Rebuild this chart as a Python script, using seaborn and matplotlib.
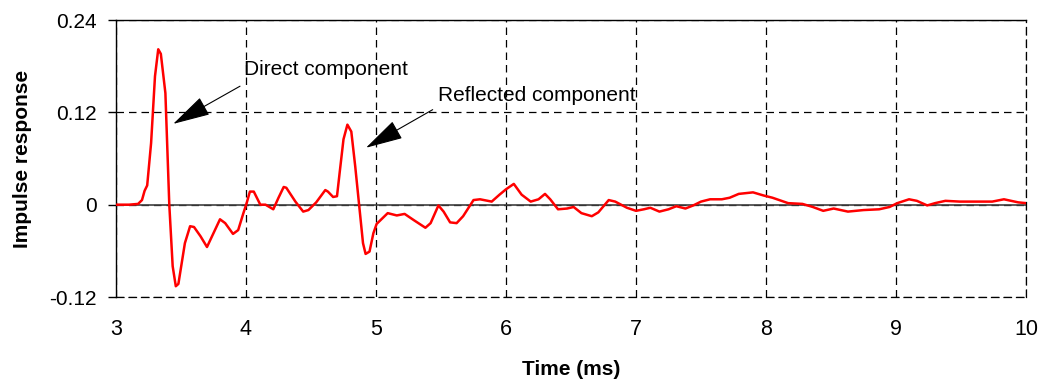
import numpy as np
import pandas as pd
import matplotlib
matplotlib.use("Agg")
import matplotlib.pyplot as plt
import seaborn as sns

# values
time_ms = [3.00, 3.10, 3.17, 3.20, 3.22, 3.24, 3.27, 3.30, 3.325, 3.345, 3.38, 3.41,
           3.436, 3.46, 3.48, 3.53, 3.57, 3.60, 3.65, 3.70, 3.75, 3.80, 3.84, 3.90,
           3.94, 3.98, 4.005, 4.03, 4.06, 4.11, 4.15, 4.21, 4.25, 4.29, 4.31, 4.38,
           4.44, 4.48, 4.54, 4.61, 4.63, 4.67, 4.70, 4.72, 4.75, 4.78, 4.81, 4.84,
           4.87, 4.90, 4.92, 4.95, 4.98, 5.005, 5.09, 5.16, 5.22, 5.29, 5.38, 5.42,
           5.48, 5.52, 5.57, 5.62, 5.67, 5.75, 5.80, 5.89, 5.95, 6.00, 6.06, 6.12,
           6.19, 6.25, 6.30, 6.34, 6.40, 6.47, 6.52, 6.58, 6.66, 6.71, 6.79, 6.84,
           6.93, 7.00, 7.06, 7.11, 7.18, 7.25, 7.31, 7.38, 7.44, 7.50, 7.57, 7.66,
           7.72, 7.79, 7.90, 7.98, 8.05, 8.17, 8.28, 8.36, 8.44, 8.52, 8.63, 8.75,
           8.87, 8.95, 9.01, 9.10, 9.16, 9.24, 9.30, 9.38, 9.49, 9.60, 9.67, 9.74,
           9.83, 9.94, 10.00]
response = [0.0, 0.0, 0.001, 0.006, 0.018, 0.025, 0.080, 0.167, 0.202, 0.196, 0.145, 0.0,
            -0.080, -0.106, -0.103, -0.050, -0.028, -0.029, -0.041, -0.055, -0.037, -0.019, -0.024, -0.038,
            -0.033, -0.011, 0.002, 0.017, 0.017, 0.0, 0.0, -0.006, 0.009, 0.023, 0.022, 0.004,
            -0.009, -0.007, 0.003, 0.019, 0.017, 0.010, 0.011, 0.041, 0.085, 0.104, 0.095, 0.050,
            0.0, -0.050, -0.064, -0.061, -0.037, -0.025, -0.011, -0.014, -0.012, -0.020, -0.030, -0.024,
            -0.001, -0.009, -0.023, -0.024, -0.015, 0.006, 0.007, 0.004, 0.013, 0.020, 0.027, 0.013,
            0.004, 0.007, 0.014, 0.007, -0.006, -0.005, -0.003, -0.011, -0.015, -0.010, 0.006, 0.004,
            -0.004, -0.008, -0.006, -0.004, -0.009, -0.006, -0.002, -0.005, -0.001, 0.004, 0.007, 0.007,
            0.009, 0.014, 0.016, 0.012, 0.009, 0.002, 0.001, -0.003, -0.008, -0.005, -0.009, -0.007,
            -0.006, -0.003, 0.002, 0.007, 0.005, -0.001, 0.002, 0.005, 0.004, 0.004, 0.004, 0.004,
            0.007, 0.003, 0.002]

x_ticks = [3, 4, 5, 6, 7, 8, 9, 10]
y_ticks = [-0.12, 0, 0.12, 0.24]
y_tick_labels = ["-0.12", "0", "0.12", "0.24"]

sns.set_style("white")
plt.rcParams['font.family'] = ['Liberation Sans', 'DejaVu Sans']
plt.rcParams['text.color'] = 'black'
plt.rcParams['axes.labelcolor'] = 'black'
plt.rcParams['xtick.color'] = 'black'
plt.rcParams['ytick.color'] = 'black'

df = pd.DataFrame({"Time": time_ms, "Response": response})

fig = plt.figure(figsize=(10.44, 3.82), dpi=100)
ax = fig.add_axes([0.1111, 0.2225, 0.8717, 0.7251])

ax.axhline(0, color="#404040", lw=1.2, zorder=1)
sns.lineplot(data=df, x="Time", y="Response", color="#ff0000", lw=1.8, ax=ax, zorder=3)

ax.set_xlim(3, 10)
ax.set_ylim(-0.12, 0.24)
ax.set_xticks(x_ticks)
ax.set_xticklabels([str(t) for t in x_ticks])
ax.set_yticks(y_ticks)
ax.set_yticklabels(y_tick_labels)

ax.grid(True, color="black", lw=0.9, linestyle=(0, (6, 4)))
ax.tick_params(axis="x", length=0, pad=16, labelsize=15.5)
ax.tick_params(axis="y", left=True, length=6, width=1, direction="out", pad=8, labelsize=15)

for side in ["top", "left"]:
    ax.spines[side].set_color("black")
    ax.spines[side].set_linewidth(1)
for side in ["bottom", "right"]:
    ax.spines[side].set_color("black")
    ax.spines[side].set_linewidth(0.9)
    ax.spines[side].set_linestyle((0, (6, 4)))

ax.set_xlabel("Time (ms)", fontsize=15, fontweight="bold", labelpad=14)
ax.set_ylabel("Impulse response", fontsize=15, fontweight="bold", labelpad=12)

arrow = dict(arrowstyle="-|>,head_length=1.7,head_width=0.45", color="black",
             lw=0.8, mutation_scale=14, shrinkA=0, shrinkB=0)
ax.annotate("", xy=(3.44, 0.105), xytext=(3.954, 0.154), arrowprops=arrow)
ax.annotate("", xy=(4.923, 0.074), xytext=(5.436, 0.1235), arrowprops=arrow)
ax.text(3.985, 0.1755, "Direct component", fontsize=15, va="center", ha="left")
ax.text(5.475, 0.1417, "Reflected component", fontsize=15, va="center", ha="left")

plt.savefig("out.png", dpi=100)
